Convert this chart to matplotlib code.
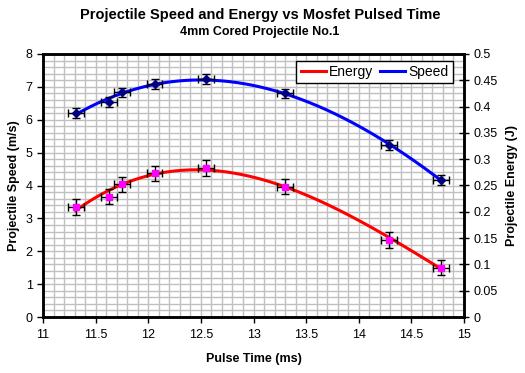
import numpy as np
import matplotlib
matplotlib.use("Agg")
import matplotlib.pyplot as plt
from matplotlib.ticker import MultipleLocator, FuncFormatter

plt.rcParams['font.family'] = ['Liberation Sans', 'DejaVu Sans']

# Data
pulse_time = [11.31, 11.625, 11.75, 12.06, 12.55, 13.30, 14.29, 14.78]
speed = [6.21, 6.54, 6.83, 7.08, 7.24, 6.80, 5.22, 4.18]
energy = [0.209, 0.229, 0.252, 0.273, 0.284, 0.248, 0.147, 0.094]
speed_err = 0.15
energy_err = 0.015
time_err = 0.075

fig = plt.figure(figsize=(5.25, 3.73), dpi=100)
ax = fig.add_axes([43/525, 1-317/373, (464-43)/525, (317-54)/373])
ax2 = ax.twinx()

x = np.array(pulse_time)
xs = np.linspace(x.min(), x.max(), 200)

# trendlines (polynomial fits of the data)
ps = np.polyfit(x, speed, 3)
pe = np.polyfit(x, energy, 3)

ax.plot(xs, np.polyval(ps, xs), color='#0000FF', lw=2.2, zorder=2, label='Speed')
ax.errorbar(x, speed, yerr=speed_err, xerr=time_err, fmt='D', color='#000080',
            ms=4, ecolor='black', elinewidth=1, capsize=3, capthick=1, zorder=3)

ax2.plot(xs, np.polyval(pe, xs), color='#FF0000', lw=2.2, zorder=2, label='Energy')
ax2.errorbar(x, energy, yerr=energy_err, xerr=time_err, fmt='s', color='#FF00FF',
             ms=4.5, ecolor='black', elinewidth=1, capsize=3, capthick=1, zorder=3)

ax.set_xlim(11, 15)
ax.set_ylim(0, 8)
ax2.set_ylim(0, 0.5)

ax.xaxis.set_major_locator(MultipleLocator(0.5))
ax.xaxis.set_minor_locator(MultipleLocator(0.1))
ax.yaxis.set_major_locator(MultipleLocator(1))
ax.yaxis.set_minor_locator(MultipleLocator(0.2))
ax2.yaxis.set_major_locator(MultipleLocator(0.05))

ax.grid(which='both', color='#C0C0C0', lw=1)
ax.set_axisbelow(True)
ax.tick_params(which='minor', length=0)
ax.tick_params(which='major', direction='out', length=4, width=1, labelsize=9, color='black')
ax2.tick_params(which='major', direction='inout', length=7, width=1, labelsize=9)
ax.tick_params(axis='x', pad=5)

def fmt(v, _=None):
    return '%g' % v
ax.xaxis.set_major_formatter(FuncFormatter(fmt))
ax2.yaxis.set_major_formatter(FuncFormatter(fmt))

for a in (ax, ax2):
    for sp in a.spines.values():
        sp.set_linewidth(1.8)
        sp.set_color('black')

ax.set_xlabel('Pulse Time (ms)', fontsize=9, fontweight='bold', labelpad=8)
ax.set_ylabel('Projectile Speed (m/s)', fontsize=9, fontweight='bold', labelpad=4)
ax2.set_ylabel('Projectile Energy (J)', fontsize=9, fontweight='bold', labelpad=6)

fig.text(260/525, 1-15/373, 'Projectile Speed and Energy vs Mosfet Pulsed Time',
         ha='center', va='center', fontsize=10.5, fontweight='bold')
fig.text(260/525, 1-32/373, '4mm Cored Projectile No.1',
         ha='center', va='center', fontsize=9, fontweight='bold')

# legend
h2, l2 = ax2.get_legend_handles_labels()
h1, l1 = ax.get_legend_handles_labels()
leg = ax2.legend(h2 + h1, l2 + l1, loc='upper right', ncol=2, fontsize=10,
                 frameon=True, fancybox=False, edgecolor='black', framealpha=1,
                 handlelength=1.8, handletextpad=0.25, columnspacing=0.5,
                 borderpad=0.3, borderaxespad=0,
                 bbox_to_anchor=((453-43)/421, (317-61)/263))
leg.get_frame().set_linewidth(1)

fig.savefig('out.png', dpi=100)
